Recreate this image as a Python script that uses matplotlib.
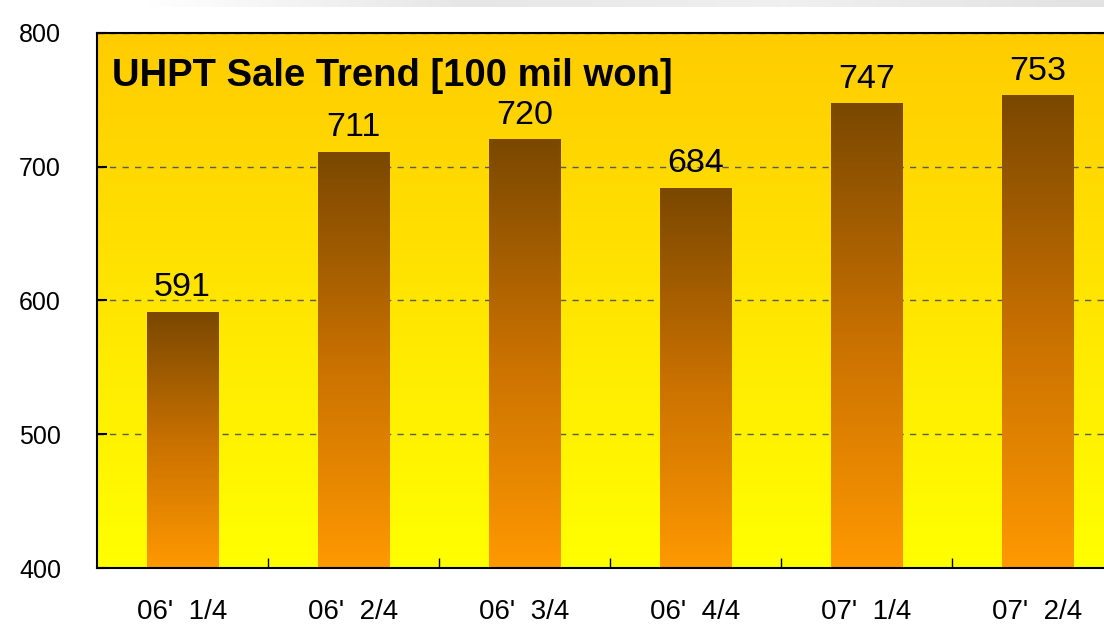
import numpy as np
import matplotlib
matplotlib.use("Agg")
import matplotlib.pyplot as plt
from matplotlib.colors import LinearSegmentedColormap

# chart data
quarters = ["06'  1/4", "06'  2/4", "06'  3/4", "06'  4/4", "07'  1/4", "07'  2/4"]
sales = [591, 711, 720, 684, 747, 753]
y_ticks = [400, 500, 600, 700, 800]
title = "UHPT Sale Trend [100 mil won]"

plt.rcParams['font.family'] = ['Liberation Sans', 'DejaVu Sans']

fig = plt.figure(figsize=(11.04, 6.25), dpi=100)

# faint grey strip at the very top of the picture
strip = fig.add_axes([0.13, 1 - 7 / 625, 0.87, 7 / 625])
strip.imshow(np.linspace(0, 1, 256)[None, :], aspect='auto',
             cmap=LinearSegmentedColormap.from_list("g", ["#ffffff", "#e6e6e6", "#f0f0f0", "#e2e2e2"]),
             extent=(0, 1, 0, 1))
strip.axis('off')

# plot area runs slightly past the right edge, as in the reference
ax = fig.add_axes([97 / 1104, 1 - 568 / 625, (1123 - 97) / 1104, (568 - 33) / 625])

x = np.arange(len(quarters))

# background gradient: bright yellow at bottom to amber on top
bg = LinearSegmentedColormap.from_list("bg", ["#ffff00", "#ffcc00"])
ax.imshow(np.linspace(0, 1, 256)[:, None], aspect='auto', cmap=bg, origin='lower',
          extent=(-0.5, len(quarters) - 0.5, 400, 800), zorder=0)

ax.yaxis.grid(True, linestyle=(0, (4.5, 4.5)), color="#5a5a5a", linewidth=1)
for gl in ax.get_ygridlines():
    gl.set_zorder(1)

# bars with vertical orange -> brown gradient
bar_cmap = LinearSegmentedColormap.from_list("bar", ["#ff9900", "#c87000", "#7a4800"])
bars = ax.bar(x, sales, width=0.42, bottom=0, color="none", edgecolor="none", zorder=2)
for b, v in zip(bars, sales):
    x0 = b.get_x()
    ax.imshow(np.linspace(0, 1, 256)[:, None], aspect='auto', cmap=bar_cmap,
              origin='lower', extent=(x0, x0 + b.get_width(), 400, v), zorder=2)
    ax.text(b.get_x() + b.get_width() / 2, v + 7, str(v), ha='center', va='bottom',
            fontsize=24.5, color='black', zorder=4)

ax.set_xlim(-0.5, len(quarters) - 0.5)
ax.set_ylim(400, 800)

ax.text(0.015, 0.92, title, transform=ax.transAxes, fontsize=27.5, fontweight='bold',
        ha='left', va='center', zorder=5)

ax.set_xticks(x)
ax.set_xticklabels(quarters, fontsize=20)
ax.set_xticks(x[:-1] + 0.5, minor=True)
ax.tick_params(axis='x', which='major', length=0, pad=22)
ax.tick_params(axis='x', which='minor', direction='in', length=7, width=1)
ax.set_yticks(y_ticks)
ax.set_yticklabels([str(t) for t in y_ticks], fontsize=18)
ax.tick_params(axis='y', direction='in', length=7, width=1.5, pad=26)

for s in ['left', 'bottom', 'top']:
    ax.spines[s].set_linewidth(1.5)
    ax.spines[s].set_zorder(6)
ax.spines['right'].set_visible(False)

fig.savefig("out.png", dpi=100)
